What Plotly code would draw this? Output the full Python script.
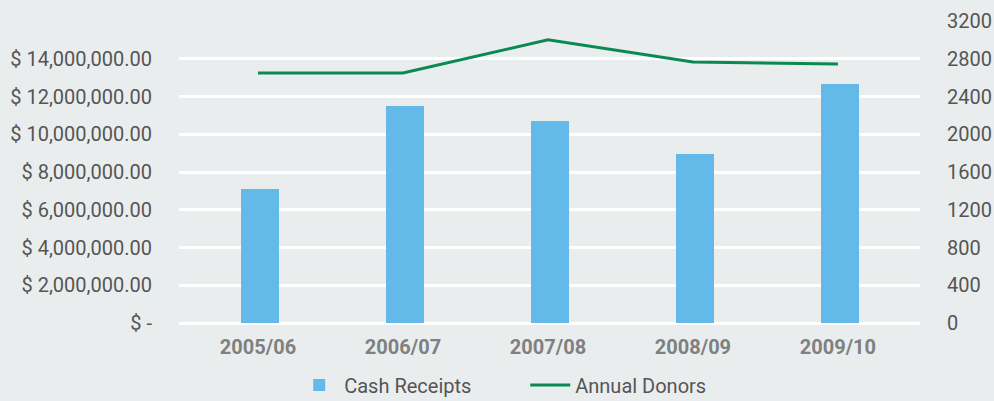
import plotly.graph_objects as go

categories = ["2005/06", "2006/07", "2007/08", "2008/09", "2009/10"]
cash_receipts = [7100000, 11500000, 10700000, 8950000, 12650000]
annual_donors = [2650, 2650, 3000, 2765, 2745]

left_tickvals = [0, 2000000, 4000000, 6000000, 8000000, 10000000, 12000000, 14000000, 16000000]
left_ticktext = ["$ -", "$ 2,000,000.00", "$ 4,000,000.00", "$ 6,000,000.00", "$ 8,000,000.00",
                 "$ 10,000,000.00", "$ 12,000,000.00", "$ 14,000,000.00", ""]
right_tickvals = [0, 400, 800, 1200, 1600, 2000, 2400, 2800, 3200]

bg = "#EAEDEE"
font_family = "Roboto, 'DejaVu Sans', sans-serif"

fig = go.Figure()
fig.add_trace(go.Bar(
    x=categories, y=cash_receipts, name="Cash Receipts",
    marker=dict(color="#63BAE9", line=dict(width=0)),
    width=0.262, offset=-0.117, yaxis="y",
))
fig.add_trace(go.Scatter(
    x=categories, y=annual_donors, name="Annual Donors",
    mode="lines", line=dict(color="#0A8A50", width=3), yaxis="y2",
))

fig.update_layout(
    width=994, height=401,
    paper_bgcolor=bg, plot_bgcolor=bg,
    margin=dict(l=179, r=74, t=21, b=78),
    font=dict(family=font_family, size=20, color="#555555"),
    showlegend=True,
    legend=dict(orientation="h", xref="container", yref="container",
                x=0.296, xanchor="left", y=0.04, yanchor="middle",
                font=dict(size=20, color="#555555"), itemwidth=40,
                entrywidth=176, entrywidthmode="pixels",
                traceorder="normal", bgcolor="rgba(0,0,0,0)"),
    xaxis=dict(
        type="category", range=[-0.545, 4.566], automargin=False,
        showgrid=False, zeroline=False, showline=False, ticks="",
        tickfont=dict(size=20, color="#808080", family="Roboto, sans-serif", weight="bold"),
        ticklabelstandoff=10,
    ),
    yaxis=dict(
        range=[0, 16000000], tickvals=left_tickvals, ticktext=left_ticktext,
        automargin=False,
        showgrid=True, gridcolor="#FFFFFF", gridwidth=2.5,
        zeroline=True, zerolinecolor="#FFFFFF", zerolinewidth=3,
        showline=False, ticks="", ticklabelstandoff=26,
        tickfont=dict(size=20, color="#555555"),
    ),
    yaxis2=dict(
        range=[0, 3200], tickvals=right_tickvals, overlaying="y", side="right",
        automargin=False,
        showgrid=False, zeroline=False, showline=False, ticks="",
        ticklabelstandoff=26,
        tickfont=dict(size=20, color="#555555"),
    ),
    bargap=0,
)

fig.write_html("out.html",
               config={"displayModeBar": False},
               post_script="document.body.style.margin='0';document.body.style.background='#EAEDEE';document.body.style.overflow='hidden';")
